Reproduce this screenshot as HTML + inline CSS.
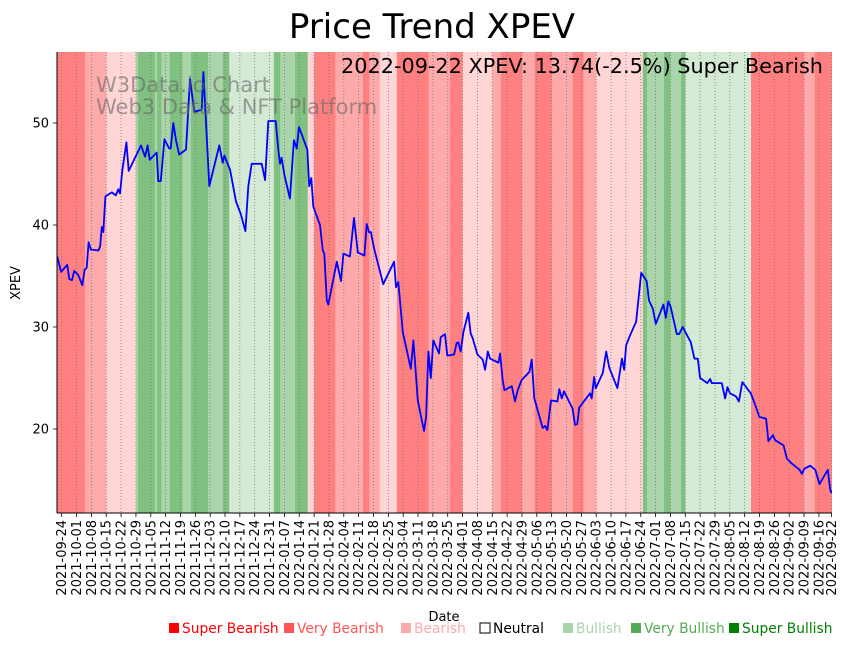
<!DOCTYPE html>
<html><head><meta charset="utf-8"><style>
body{margin:0;background:#fff;}
svg{display:block;font-family:"DejaVu Sans","Liberation Sans",sans-serif;}
</style></head><body>
<svg id="chart" width="851" height="646" viewBox="0 0 851 646">
<defs><clipPath id="clip"><rect x="57" y="52" width="775" height="461"/></clipPath></defs>
<g id="bands" clip-path="url(#clip)"></g>
<g id="grid"></g>
<g id="line" clip-path="url(#clip)"></g>
<text x="432" y="38" text-anchor="middle" font-size="34">Price Trend XPEV</text>
<text x="823" y="73" text-anchor="end" font-size="20.8">2022-09-22 XPEV: 13.74(-2.5%) Super Bearish</text>
<text x="96" y="92" font-size="21" fill="#666" fill-opacity="0.6">W3Data.io Chart</text>
<text x="96" y="114" font-size="21" fill="#666" fill-opacity="0.6">Web3 Data &amp; NFT Platform</text>
<g id="axes"></g>
<text transform="translate(20,283) rotate(-90)" text-anchor="middle" font-size="13">XPEV</text>
<text x="444" y="621" text-anchor="middle" font-size="13">Date</text>
<g id="legend"></g>
</svg>
<script>
const bandStarts=[-2,11,21,35,36,44,45,47,51,57,61,69,76,79,100,103,110,116,119,129,142,145,150,158,173,183,189,203,207,217,223,231,241,246,252,274,276,284,287,292,294,325,350,355];
const bandLevels=[-3,-2,-1,2,3,2,3,2,3,2,3,2,3,1,3,2,3,-1,-3,-2,-3,-2,-1,-3,-2,-3,-1,-2,-3,-2,-3,-2,-3,-2,-1,3,2,3,2,3,1,-3,-2,-3];
const bandEnd=363;
const priceDays=[-2.1,-0.3,2.6,3.6,4.9,5.9,7.8,9.7,10.8,11.8,12.7,13.7,17.3,18.1,18.9,19.6,20.6,23.6,25.5,26.7,27.5,28.6,30.5,31.6,37.4,39.3,40.5,41.5,44.8,45.5,46.7,48.4,50.7,51.4,52.6,53.9,55.4,58.6,60.5,62.5,66.0,66.8,69.6,74.3,75.9,76.7,79.4,82.2,84.4,86.6,88.0,89.6,94.3,95.9,97.4,100.9,102.1,102.9,103.7,105.0,107.6,109.5,110.8,111.9,115.8,116.7,117.7,118.6,121.8,123.1,123.8,125.0,125.7,129.7,131.7,132.8,135.9,137.8,139.6,142.7,143.8,144.9,145.8,147.3,151.6,156.7,157.6,158.7,160.8,164.6,165.8,167.9,170.8,171.8,172.9,174.0,175.2,177.9,178.7,180.7,181.8,185.0,186.2,187.0,188.1,189.4,191.7,192.8,193.8,196.0,198.5,199.6,200.9,202.0,205.9,206.7,207.9,208.7,212.2,213.7,215.0,216.9,220.5,221.6,222.8,226.8,227.9,229.0,230.7,233.7,234.6,235.8,236.8,240.9,242.0,243.1,244.0,249.1,249.9,251.0,251.8,255.1,256.7,258.2,262.0,264.1,265.2,266.1,268.0,270.8,273.2,275.8,276.9,278.7,280.1,283.7,284.8,286.0,287.1,290.0,291.1,292.8,296.6,298.3,299.9,301.0,304.4,305.7,306.5,308.5,311.2,312.8,313.9,315.1,317.9,319.3,320.9,324.9,326.9,328.9,332.1,333.2,335.3,336.4,340.3,341.9,344.3,347.9,349.0,350.1,352.9,355.3,357.3,361.2,362.3,363.0];
const priceValues=[36.9,35.4,36.1,34.7,34.6,35.5,35.1,34.1,35.6,35.8,38.3,37.6,37.5,37.9,39.8,39.3,42.8,43.2,42.9,43.5,43.1,45.4,48.1,45.3,47.8,46.7,47.8,46.4,47.1,44.3,44.3,48.4,47.5,47.5,50.0,48.3,46.9,47.4,54.3,51.1,51.3,55.0,43.8,47.8,46.1,46.8,45.4,42.3,41.1,39.4,43.8,46.0,46.0,44.4,50.2,50.2,47.4,46.0,46.6,44.9,42.6,48.3,47.5,49.6,47.4,43.8,44.6,41.8,40.0,37.5,37.2,32.6,32.2,36.4,34.5,37.2,36.9,40.7,37.3,37.0,40.1,39.3,39.3,37.7,34.2,36.4,33.9,34.4,29.5,25.9,28.7,22.8,19.8,21.2,27.6,25.0,28.7,27.4,29.0,29.3,27.2,27.3,28.4,28.5,27.6,29.5,31.4,29.4,28.9,27.3,26.8,25.8,27.6,26.9,26.5,27.4,24.8,23.8,24.2,22.7,23.8,24.8,25.6,26.8,23.0,20.1,20.3,19.9,22.8,22.7,23.9,23.0,23.7,22.0,20.4,20.5,22.1,23.5,23.0,25.1,24.0,25.5,27.6,26.0,24.0,26.9,25.8,28.2,29.2,30.5,35.3,34.5,32.6,31.8,30.3,32.2,30.9,32.5,32.0,29.3,29.3,30.0,28.5,26.9,26.9,25.0,24.5,24.9,24.5,24.5,24.5,23.0,24.1,23.5,23.2,22.7,24.6,23.5,22.4,21.2,21.0,18.8,19.4,18.9,18.4,17.1,16.6,16.0,15.6,16.1,16.4,16.0,14.6,16.0,14.1,13.7];
const yTicks=[20,30,40,50];
const xTickDays=[0,7,14,21,28,35,42,49,56,63,70,77,84,91,98,105,112,119,126,133,140,147,154,161,168,175,182,189,196,203,210,217,224,231,238,245,252,259,266,273,280,287,294,301,308,315,322,329,336,343,350,357,363];
const xTickLabels=["2021-09-24","2021-10-01","2021-10-08","2021-10-15","2021-10-22","2021-10-29","2021-11-05","2021-11-12","2021-11-19","2021-11-26","2021-12-03","2021-12-10","2021-12-17","2021-12-24","2021-12-31","2022-01-07","2022-01-14","2022-01-21","2022-01-28","2022-02-04","2022-02-11","2022-02-18","2022-02-25","2022-03-04","2022-03-11","2022-03-18","2022-03-25","2022-04-01","2022-04-08","2022-04-15","2022-04-22","2022-04-29","2022-05-06","2022-05-13","2022-05-20","2022-05-27","2022-06-03","2022-06-10","2022-06-17","2022-06-24","2022-07-01","2022-07-08","2022-07-15","2022-07-22","2022-07-29","2022-08-05","2022-08-12","2022-08-19","2022-08-26","2022-09-02","2022-09-09","2022-09-16","2022-09-22"];
const legendNames=["Super Bearish","Very Bearish","Bearish","Neutral","Bullish","Very Bullish","Super Bullish"];
const legendColors=["#ff0000","#ff5555","#ffaaaa","#ffffff","#aad5aa","#55aa55","#008000"];
const legendTextColors=["#ff0000","#ff5555","#ffaaaa","#000000","#aad5aa","#55aa55","#008000"];

const NS="http://www.w3.org/2000/svg";
function xS(d){return 61.7+d*2.121;}
function yS(v){return 429-(v-20)*10.2;}
function mk(tag,attrs,parent){const e=document.createElementNS(NS,tag);for(const k in attrs)e.setAttribute(k,attrs[k]);parent.appendChild(e);return e;}
const bandColor={"-3":"#ff8080","-2":"#ffaaaa","-1":"#ffd5d5","1":"#d5ead5","2":"#aad5aa","3":"#80c080"};
const gB=document.getElementById('bands');
bandStarts.forEach((s,i)=>{
  const e=(i+1<bandStarts.length)?bandStarts[i+1]:bandEnd;
  const r=mk('rect',{x:xS(s),y:52,width:xS(e)-xS(s)+0.3,height:461,fill:bandColor[bandLevels[i]]},gB);
  
  
});
const gG=document.getElementById('grid');
const gA=document.getElementById('axes');
xTickDays.forEach((d,i)=>{
  const x=xS(d);
  const l=mk('line',{x1:x,y1:52,x2:x,y2:513,stroke:'#777','stroke-width':0.8,'stroke-dasharray':'1,2'},gG);
  
  
  mk('line',{x1:x,y1:513,x2:x,y2:517,stroke:'#000','stroke-width':0.8},gA);
  const t=mk('text',{transform:`translate(${x+4.5},520) rotate(-90)`,'text-anchor':'end','font-size':13},gA);
  t.textContent=xTickLabels[i];
  
  
});
yTicks.forEach(v=>{
  const y=yS(v);
  mk('line',{x1:53,y1:y,x2:57,y2:y,stroke:'#000','stroke-width':0.8},gA);
  const t=mk('text',{x:49,y:y+4.5,'text-anchor':'end','font-size':13},gA);
  t.textContent=v;
  
  
});
const sp1=mk('line',{x1:57,y1:52,x2:57,y2:513,stroke:'#000','stroke-width':1},gA);


const sp2=mk('line',{x1:57,y1:513,x2:832,y2:513,stroke:'#000','stroke-width':1},gA);


const pts=priceDays.map((d,i)=>xS(d).toFixed(1)+','+yS(priceValues[i]).toFixed(1)).join(' ');
const pl=mk('polyline',{points:pts,fill:'none',stroke:'#0000ff','stroke-width':1.8,'stroke-linejoin':'round'},document.getElementById('line'));


const gL=document.getElementById('legend');
const legX=[169,284,401,480,563,631,729];
legendNames.forEach((n,i)=>{
  const sq=mk('rect',{x:legX[i],y:623,width:10,height:10,fill:legendColors[i],stroke:i===3?'#000':'none','stroke-width':1},gL);
  
  
  const t=mk('text',{x:legX[i]+13,y:633,'font-size':13.8,fill:legendTextColors[i]},gL);
  t.textContent=n;
  
  
});
</script>
</body></html>
